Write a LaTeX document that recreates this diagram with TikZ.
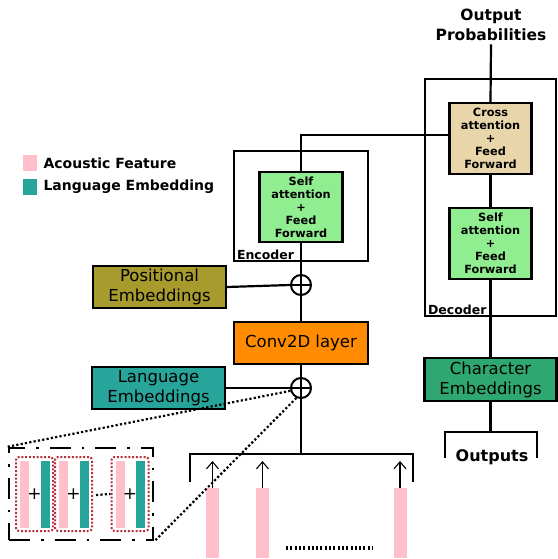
\documentclass[tikz,border=0pt]{standalone}
\usepackage{fontspec}
\setmainfont{DejaVu Sans}
\usetikzlibrary{arrows.meta}

\definecolor{cTan}{RGB}{232,213,170}
\definecolor{cLight}{RGB}{144,238,144}
\definecolor{cOlive}{RGB}{168,155,45}
\definecolor{cOrange}{RGB}{255,140,0}
\definecolor{cTeal}{RGB}{40,165,155}
\definecolor{cChar}{RGB}{46,168,112}
\definecolor{cPink}{RGB}{255,192,203}
\definecolor{cDots}{RGB}{180,50,60}

\newcommand{\bigtxt}{\fontsize{16.5}{20}\selectfont}
\newcommand{\smalltxt}{\bfseries\fontsize{11.3}{12.9}\selectfont}
\newcommand{\labtxt}{\bfseries\fontsize{12.5}{14}\selectfont}
\newcommand{\legtxt}{\bfseries\fontsize{14}{16}\selectfont}

\begin{document}
\begin{tikzpicture}[x=1pt,y=-1pt,
  blk/.style={draw,line width=2.4pt,inner sep=0pt,align=center},
  frame/.style={draw,line width=2.4pt,inner sep=0pt},
  wire/.style={line width=2.2pt},
  sumnode/.style={draw,circle,line width=2pt,minimum size=20pt,inner sep=0pt},
  zoomline/.style={line width=2.2pt,dash pattern=on 2.2pt off 2.2pt},
  feat/.style={fill=cPink,inner sep=0pt,minimum width=13pt,minimum height=70pt},
  cellbox/.style={draw=cDots,line width=2pt,dash pattern=on 2pt off 1.8pt,rounded corners=3pt,inner sep=0pt,minimum width=37pt,minimum height=74pt},
  thinbar/.style={inner sep=0pt,minimum width=9pt,minimum height=67pt},
  up/.style={line width=1.1pt,-{Straight Barb[length=7pt,width=12pt,line width=1.1pt]}}]

\useasboundingbox (0,0) rectangle (557,559);

% ---------- legend ----------
\node[fill=cPink,inner sep=0pt,minimum width=14pt,minimum height=16pt] (lgA) at (30,163) {};
\node[anchor=west,font=\legtxt] (lgAt) at (40,163) {Acoustic Feature};
\node[fill=cTeal,inner sep=0pt,minimum width=14pt,minimum height=16pt] (lgB) at (30,187) {};
\node[anchor=west,font=\legtxt] (lgBt) at (40,187) {Language Embedding};

% ---------- decoder ----------
\node[font=\bfseries\fontsize{15.5}{20}\selectfont,align=center] (outprob) at (491,25) {Output\\Probabilities};
\node[frame,minimum width=131pt,minimum height=237pt] (decbox) at (490.5,197.5) {};
\node[anchor=south west,font=\labtxt,inner sep=1pt] (declab) at ([shift={(3,-1)}]decbox.south west) {Decoder};
\node[blk,fill=cTan,minimum width=82pt,minimum height=71pt,font=\smalltxt] (cross) at (490.5,138.5) {Cross\\attention\\+\\Feed\\Forward};
\node[blk,fill=cLight,minimum width=82pt,minimum height=71pt,font=\smalltxt] (decsa) at (490.5,243.5) {Self\\attention\\+\\Feed\\Forward};
\node[blk,fill=cChar,minimum width=132pt,minimum height=43pt,font=\bigtxt] (charemb) at (490.5,379.5) {Character\\Embeddings};
\node[font=\bfseries\fontsize{16}{20}\selectfont,inner sep=0pt] (outs) at (492,457) {Outputs};
\coordinate (obr) at (490.5,432);

% ---------- encoder ----------
\node[frame,minimum width=134pt,minimum height=110pt] (encbox) at (301,206) {};
\node[anchor=south west,font=\labtxt,inner sep=1pt] (enclab) at ([shift={(3,-1)}]encbox.south west) {Encoder};
\node[blk,fill=cLight,minimum width=83pt,minimum height=70pt,font=\smalltxt] (encsa) at (301,207) {Self\\attention\\+\\Feed\\Forward};

\node[sumnode] (plus1) at (301,285) {};
\node[blk,fill=cOlive,minimum width=133pt,minimum height=42pt,font=\bigtxt] (pe) at (159.5,287) {Positional\\Embeddings};
\node[blk,fill=cOrange,minimum width=134pt,minimum height=42pt,font=\bigtxt] (conv) at (301,343) {Conv2D layer};
\node[sumnode] (plus2) at (301,388) {};
\node[blk,fill=cTeal,minimum width=133pt,minimum height=42pt,font=\bigtxt] (le) at (158.5,388) {Language\\Embeddings};
\coordinate (ibr) at (301,454);

% ---------- connectors ----------
\draw[wire] (outprob.south) -- (cross.north);
\draw[wire] (cross.south) -- (decsa.north);
\draw[wire] (decsa.south) -- (charemb.north);
\draw[wire] (charemb.south) -- (obr);
\draw[wire] (445,458) |- (obr) -| (537,458);

\draw[wire] (encsa.north) |- ([yshift=3.5pt]cross.west);
\draw[wire] (encsa.south) -- (plus1.north);
\draw[wire] (pe.east) -- (plus1.west);
\draw[wire] (plus1.south) -- (conv.north);
\draw[wire] (conv.south) -- (plus2.north);
\draw[wire] (le.east) -- (plus2.west);
\draw[wire] (plus2.south) -- (ibr);
\draw[wire] (190,482) |- (ibr) -| (413,482);
\foreach \p in {plus1,plus2}{
  \draw[line width=1.8pt] (\p.north) -- (\p.south) (\p.west) -- (\p.east);
}

% ---------- acoustic frames ----------
\node[feat,anchor=north] (f1) at (212.5,488) {};
\node[feat,anchor=north] (f2) at (262.5,488) {};
\node[feat,anchor=north] (f3) at (400,488) {};
\foreach \f in {f1,f2,f3}{
  \draw[up] (\f.north) -- ++(0,-27);
}
\draw[line width=4pt,dash pattern=on 2pt off 2.3pt] (286,548) -- (373,548);

% ---------- frame detail ----------
\node[draw,line width=2.6pt,dash pattern=on 21pt off 11pt on 2.5pt off 11pt,inner sep=0pt,minimum width=144pt,minimum height=92pt] (zb) at (81,494) {};
\foreach \n/\cx in {c1/34.5,c2/73.5,c3/130}{
  \node[cellbox] (\n) at (\cx,494) {};
  \node[thinbar,fill=cPink] (\n p) at ([xshift=-10pt]\n.center) {};
  \node[thinbar,fill=cTeal] (\n t) at ([xshift=10.5pt]\n.center) {};
  \node[font=\fontsize{17}{17}\selectfont,inner sep=0pt] (\n s) at (\n.center) {+};
}
\draw[line width=2.2pt,dash pattern=on 2.2pt off 2.2pt] (c2.east) ++(3,1) -- (c3.west);
\draw[zoomline] (plus2.195) -- (zb.north west);
\draw[zoomline] (plus2.245) -- (zb.south east);

\end{tikzpicture}
\end{document}
